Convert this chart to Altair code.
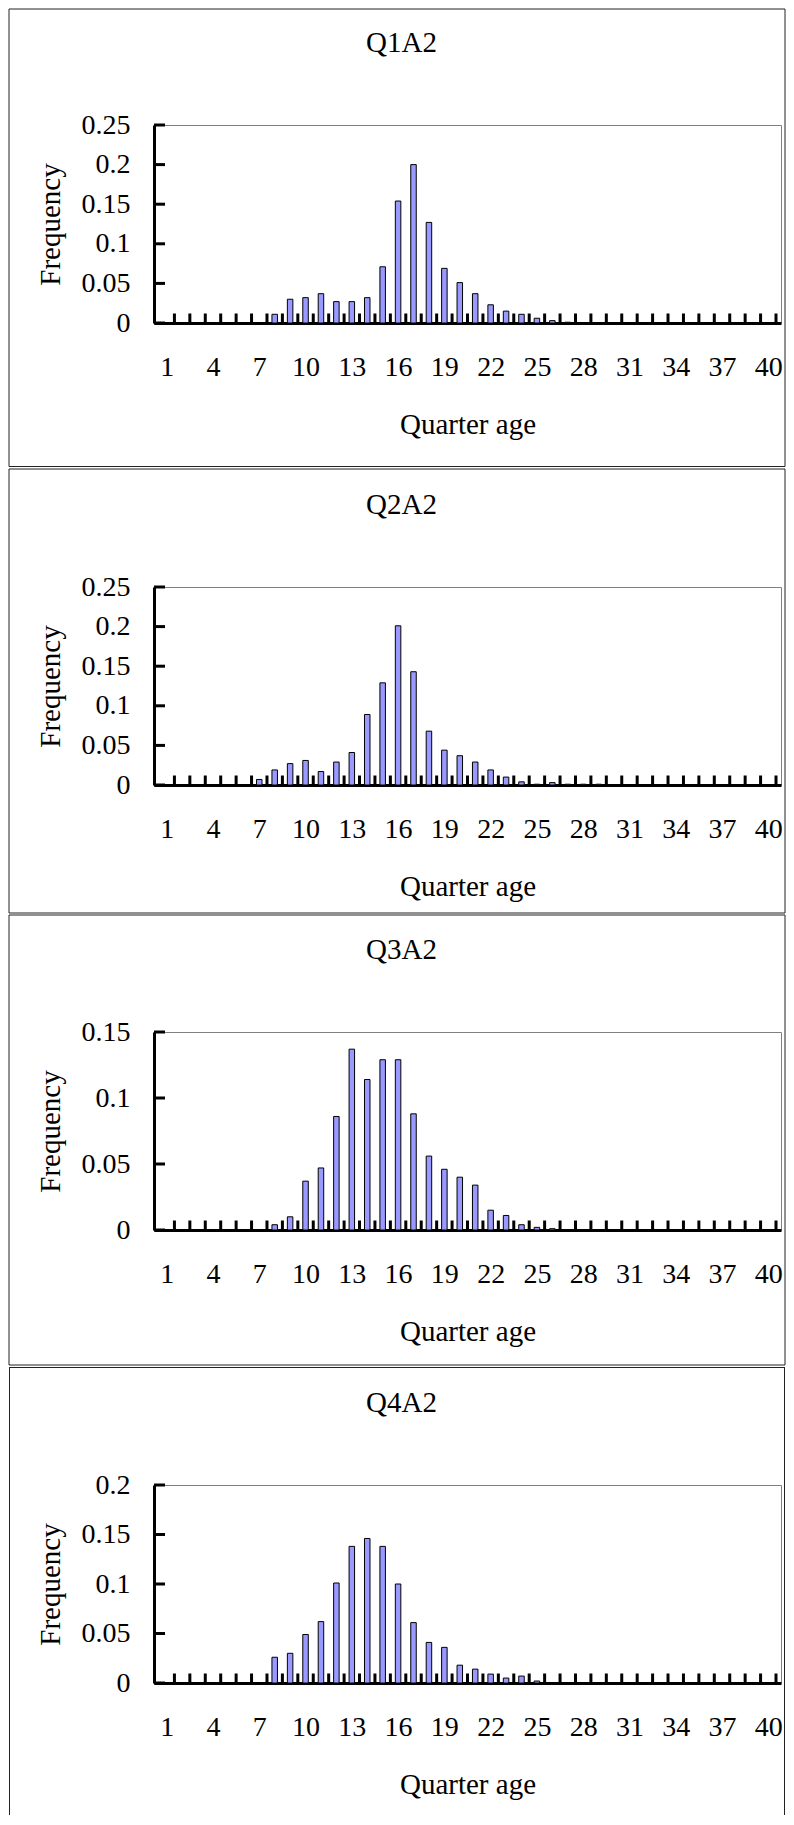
import altair as alt
import pandas as pd

# ---------------- data ----------------
ages = list(range(1, 41))

q1a2 = [0, 0, 0, 0, 0, 0, 0,
        0.011, 0.030, 0.032, 0.037, 0.027, 0.027, 0.032, 0.071, 0.154,
        0.200, 0.127, 0.069, 0.051, 0.037, 0.023, 0.015, 0.011, 0.006,
        0.003, 0.001,
        0, 0, 0, 0, 0, 0, 0, 0, 0, 0, 0, 0, 0]

q2a2 = [0, 0, 0, 0, 0, 0,
        0.007, 0.019, 0.027, 0.031, 0.017, 0.029, 0.041, 0.089, 0.129,
        0.201, 0.143, 0.068, 0.044, 0.037, 0.029, 0.019, 0.010, 0.004,
        0.001, 0.003, 0.001, 0.001, 0.001,
        0, 0, 0, 0, 0, 0, 0, 0, 0, 0, 0]

q3a2 = [0, 0, 0, 0, 0, 0, 0,
        0.004, 0.010, 0.037, 0.047, 0.086, 0.137, 0.114, 0.129, 0.129,
        0.088, 0.056, 0.046, 0.040, 0.034, 0.015, 0.011, 0.004, 0.002,
        0.001,
        0, 0, 0, 0, 0, 0, 0, 0, 0, 0, 0, 0, 0, 0]

q4a2 = [0, 0, 0, 0, 0, 0, 0,
        0.026, 0.030, 0.049, 0.062, 0.101, 0.138, 0.146, 0.138, 0.100,
        0.061, 0.041, 0.036, 0.018, 0.014, 0.009, 0.005, 0.007, 0.002,
        0, 0, 0, 0, 0, 0, 0, 0, 0, 0, 0, 0, 0, 0, 0]

titles = ["Q1A2", "Q2A2", "Q3A2", "Q4A2"]
series = [q1a2, q2a2, q3a2, q4a2]
y_max = [0.25, 0.25, 0.15, 0.2]
y_ticks = [
    [0, 0.05, 0.1, 0.15, 0.2, 0.25],
    [0, 0.05, 0.1, 0.15, 0.2, 0.25],
    [0, 0.05, 0.1, 0.15],
    [0, 0.05, 0.1, 0.15, 0.2],
]
x_labels = [1, 4, 7, 10, 13, 16, 19, 22, 25, 28, 31, 34, 37, 40]

# ---------------- layout / style ----------------
FONT = "Liberation Serif"
W, H = 627, 198
LABEL_SIZE = 28
TITLE_SIZE = 29
BOX_LEFT, BOX_RIGHT = -145, 631
box_top = [-116, -118, -117, -118]
box_bottom = [341.5, 326, 333, 330]
box_closed = [True, True, True, False]
BORDER = "#222222"


def panel(title, freq, ymax, yticks, top, bottom, closed):
    df = pd.DataFrame({"age": ages, "freq": freq})
    xs = alt.Scale(domain=[0.5, 40.5], nice=False, zero=False)
    ys = alt.Scale(domain=[0, ymax], nice=False)

    xaxis = alt.Axis(
        values=x_labels, title="Quarter age", ticks=False, tickSize=0,
        grid=False, labelPadding=52, labelBaseline="alphabetic",
        labelFontSize=LABEL_SIZE, labelFont=FONT, labelColor="black",
        labelFlush=False, labelOverlap=False,
        domainColor="black", domainWidth=3,
        titleFont=FONT, titleFontSize=TITLE_SIZE, titleFontWeight="normal",
        titleColor="black", titleX=W / 2, titleY=110,
        titleBaseline="alphabetic", titleAlign="center",
    )
    yaxis = alt.Axis(
        values=yticks, format=".2~f", title="Frequency", ticks=False,
        tickSize=0, grid=False, labelPadding=24, labelFontSize=LABEL_SIZE,
        labelFont=FONT, labelColor="black", labelBaseline="middle",
        labelFlush=False, labelOverlap=False,
        domainColor="black", domainWidth=3,
        titleFont=FONT, titleFontSize=TITLE_SIZE, titleFontWeight="normal",
        titleColor="black", titleX=-104, titleY=H / 2,
        titleAngle=270, titleBaseline="middle", titleAlign="center",
    )

    bars = alt.Chart(df).mark_bar(
        width=5.5, fill="#9999FF", stroke="black", strokeWidth=1
    ).encode(
        x=alt.X("age:Q", scale=xs, axis=xaxis),
        y=alt.Y("freq:Q", scale=ys, axis=yaxis),
    )

    xticks = alt.Chart(df).transform_calculate(
        age="datum.age + 0.5"
    ).mark_rule(color="black", strokeWidth=3).encode(
        x=alt.X("age:Q", scale=xs, axis=xaxis),
        y=alt.value(H),
        y2=alt.value(H - 9.5),
    )

    yt = alt.Chart(pd.DataFrame({"freq": yticks})).mark_rule(
        color="black", strokeWidth=3
    ).encode(
        y=alt.Y("freq:Q", scale=ys, axis=yaxis),
        x=alt.value(0),
        x2=alt.value(11),
    )

    ttl = alt.Chart(pd.DataFrame({"t": [title]})).mark_text(
        font=FONT, fontSize=TITLE_SIZE, align="center", baseline="alphabetic",
        color="black"
    ).encode(text="t:N", x=alt.value(247.5), y=alt.value(-73))

    one = pd.DataFrame({"k": [0]})
    if closed:
        frame = [alt.Chart(one).mark_rect(
            fillOpacity=0, stroke=BORDER, strokeWidth=1
        ).encode(
            x=alt.value(BOX_LEFT), x2=alt.value(BOX_RIGHT),
            y=alt.value(top), y2=alt.value(bottom),
        )]
    else:
        frame = [
            alt.Chart(one).mark_rule(color=BORDER, strokeWidth=1).encode(
                x=alt.value(BOX_LEFT), x2=alt.value(BOX_RIGHT),
                y=alt.value(top + 0.5)),
            alt.Chart(one).mark_rule(color=BORDER, strokeWidth=1).encode(
                x=alt.value(BOX_LEFT + 0.5),
                y=alt.value(top), y2=alt.value(bottom)),
            alt.Chart(one).mark_rule(color=BORDER, strokeWidth=1).encode(
                x=alt.value(BOX_RIGHT - 0.5),
                y=alt.value(top), y2=alt.value(bottom)),
        ]

    return alt.layer(bars, xticks, yt, ttl, *frame).properties(width=W, height=H)


panels = [
    panel(titles[i], series[i], y_max[i], y_ticks[i], box_top[i],
          box_bottom[i], box_closed[i])
    for i in range(4)
]

chart = alt.vconcat(*panels, spacing=0).properties(padding=0).configure_view(
    stroke="#808080", strokeWidth=1
)

chart.save("out.html", embed_options={"renderer": "svg", "actions": False})
